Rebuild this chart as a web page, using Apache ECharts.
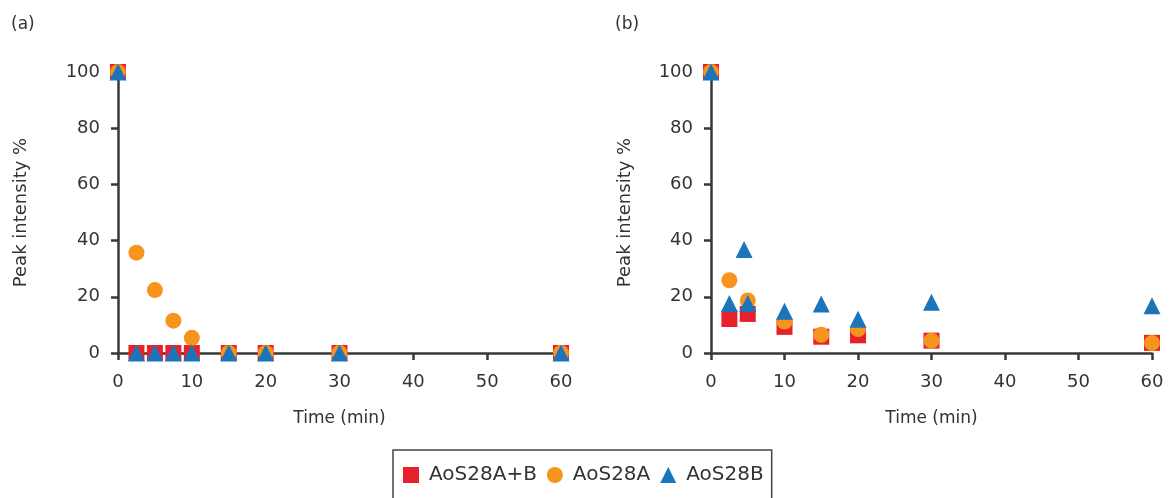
<!DOCTYPE html>
<html>
<head>
<meta charset="utf-8">
<script src="https://cdn.jsdelivr.net/npm/echarts@6/dist/echarts.min.js"></script>
<style>
html,body{margin:0;padding:0;background:#fff;}
#chart{width:1171px;height:498px;}
</style>
</head>
<body>
<div id="chart"></div>
<script>
// ---- Data ----
var seriesNames = ['AoS28A+B', 'AoS28A', 'AoS28B'];
var xTicks = [0, 10, 20, 30, 40, 50, 60];
var yTicks = [0, 20, 40, 60, 80, 100];

// Panel (a)
var aTimeAB = [0, 2.5, 5, 7.5, 10, 15, 20, 30, 60];
var aValAB  = [100, 0, 0, 0, 0, 0, 0, 0, 0];
var aTimeA  = [0, 2.5, 5, 7.5, 10, 15, 20, 30, 60];
var aValA   = [100, 35.7, 22.4, 11.5, 5.4, 0, 0, 0, 0];
var aTimeB  = [0, 2.5, 5, 7.5, 10, 15, 20, 30, 60];
var aValB   = [100, 0, 0, 0, 0, 0, 0, 0, 0];

// Panel (b)
var bTimeAB = [0, 2.5, 5, 10, 15, 20, 30, 60];
var bValAB  = [100, 12.1, 13.9, 9.3, 5.8, 6.3, 4.4, 3.6];
var bTimeA  = [0, 2.5, 5, 10, 15, 20, 30, 60];
var bValA   = [100, 25.9, 18.7, 11.2, 6.5, 8.5, 4.4, 3.6];
var bTimeB  = [0, 2.5, 4.5, 5, 10, 15, 20, 30, 60];
var bValB   = [100, 17.6, 36.8, 17.6, 14.9, 17.4, 12.0, 18.1, 16.8];

var colors = ['#e8202a', '#f7941d', '#1b75bb'];
var symbols = ['rect', 'circle', 'triangle'];
var sizes = [16, 16, 17];

function pairs(xs, ys) { return xs.map(function (x, i) { return [x, ys[i]]; }); }

var textColor = '#333';
var fontFam = '"DejaVu Sans", "Liberation Sans", Arial, sans-serif';

function xAxisCfg(gi) {
  return {
    gridIndex: gi, type: 'value', min: 0, max: 60, interval: 10,
    name: 'Time (min)', nameLocation: 'middle', nameGap: 57,
    nameTextStyle: { color: textColor, fontSize: 17, fontFamily: fontFam },
    axisLine: { show: true, onZero: false, lineStyle: { color: '#383838', width: 2.5 } },
    axisTick: { show: true, inside: false, length: 7, lineStyle: { color: '#383838', width: 2.5 } },
    axisLabel: { color: textColor, fontSize: 18, fontFamily: fontFam, margin: 20,
      formatter: function (v) { return xTicks.indexOf(v) >= 0 ? String(v) : ''; } },
    splitLine: { show: false }
  };
}
function yAxisCfg(gi, gap) {
  return {
    gridIndex: gi, type: 'value', min: 0, max: 100, interval: 20,
    name: 'Peak intensity %', nameLocation: 'middle', nameGap: gap, nameRotate: 90,
    nameTextStyle: { color: textColor, fontSize: 18, fontFamily: fontFam },
    axisLine: { show: true, onZero: false, lineStyle: { color: '#383838', width: 2.5 } },
    axisTick: { show: true, inside: false, length: 7, lineStyle: { color: '#383838', width: 2.5 } },
    axisLabel: { color: textColor, fontSize: 18, fontFamily: fontFam, margin: 18,
      formatter: function (v) { return yTicks.indexOf(v) >= 0 ? String(v) : ''; } },
    splitLine: { show: false }
  };
}

var panelData = [
  [pairs(aTimeAB, aValAB), pairs(aTimeA, aValA), pairs(aTimeB, aValB)],
  [pairs(bTimeAB, bValAB), pairs(bTimeA, bValA), pairs(bTimeB, bValB)]
];

var series = [];
panelData.forEach(function (pd, gi) {
  pd.forEach(function (d, si) {
    series.push({
      name: seriesNames[si], type: 'scatter',
      xAxisIndex: gi, yAxisIndex: gi,
      symbol: symbols[si], symbolSize: sizes[si],
      itemStyle: { color: colors[si], opacity: 1 },
      z: 2 + si,
      data: d
    });
  });
});

var chart = echarts.init(document.getElementById('chart'), null, { renderer: 'canvas' });
chart.setOption({
  animation: false,
  backgroundColor: '#fff',
  title: [
    { text: '(a)', left: 6, top: 11, textStyle: { color: textColor, fontSize: 17, fontWeight: 'normal', fontFamily: fontFam } },
    { text: '(b)', left: 610, top: 11, textStyle: { color: textColor, fontSize: 17, fontWeight: 'normal', fontFamily: fontFam } }
  ],
  grid: [
    { left: 118, top: 72, width: 443, height: 281 },
    { left: 711, top: 72, width: 441, height: 281 }
  ],
  xAxis: [xAxisCfg(0), xAxisCfg(1)],
  yAxis: [yAxisCfg(0, 88), yAxisCfg(1, 77)],
  legend: {
    data: [
      { name: 'AoS28A+B', icon: 'rect' },
      { name: 'AoS28A', icon: 'circle' },
      { name: 'AoS28B', icon: 'triangle' }
    ],
    left: 393, top: 450,
    padding: [15, 8, 30, 10],
    itemGap: 10, itemWidth: 16, itemHeight: 16,
    borderColor: '#444', borderWidth: 1.5,
    textStyle: { color: textColor, fontSize: 20, fontFamily: fontFam, padding: [0, 0, 0, 5] }
  },
  series: series
});
</script>
</body>
</html>
